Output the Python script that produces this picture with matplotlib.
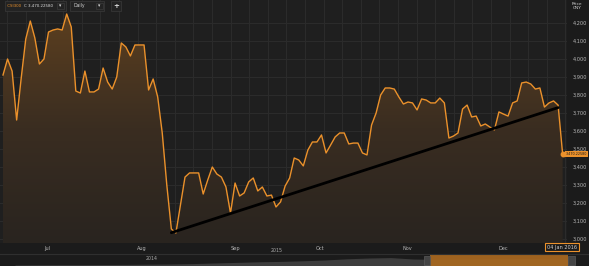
import numpy as np
import matplotlib
matplotlib.use('Agg')
import matplotlib.pyplot as plt
from matplotlib.patches import Rectangle
from matplotlib.colors import LinearSegmentedColormap

plt.rcParams['font.family'] = ['DejaVu Sans']

# CSI300 daily closes, late Jun 2015 .. 04 Jan 2016
closes = [3911, 4000, 3933, 3661, 3894, 4111, 4211, 4117, 3972, 4000,
          4150, 4161, 4167, 4161, 4250, 4178, 3822, 3811, 3933, 3817,
          3817, 3833, 3950, 3872, 3833, 3900, 4089, 4067, 4017, 4078,
          4078, 4078, 3828, 3889, 3789, 3589, 3300, 3056, 3033, 3189,
          3344, 3367, 3367, 3367, 3250, 3328, 3400, 3361, 3344, 3289,
          3144, 3311, 3239, 3256, 3317, 3339, 3267, 3289, 3239, 3244,
          3178, 3206, 3294, 3339, 3450, 3439, 3406, 3494, 3539, 3539,
          3578, 3478, 3522, 3567, 3589, 3589, 3528, 3533, 3533, 3478,
          3467, 3633, 3700, 3800, 3839, 3839, 3833, 3789, 3750, 3761,
          3756, 3717, 3778, 3772, 3756, 3756, 3783, 3756, 3561, 3572,
          3589, 3722, 3744, 3678, 3683, 3628, 3639, 3622, 3606, 3706,
          3694, 3683, 3756, 3767, 3867, 3872, 3861, 3833, 3839, 3733,
          3756, 3767, 3744, 3470.2258]

month_labels = ['Jul', 'Aug', 'Sep', 'Oct', 'Nov', 'Dec']
month_pos = [9.7, 30.5, 51.0, 69.7, 88.8, 109.9]

trend_idx = [37, 122]
trend_val = [3035, 3730]

price_ticks = [3000, 3100, 3200, 3300, 3400, 3500, 3600, 3700, 3800, 3900, 4000, 4100, 4200]

# long-range navigator silhouette (2014 .. 2016)
nav_vals = [1.0, 1.2, 1.3, 1.3, 1.5, 1.6, 1.8, 2.0, 2.4, 3.0, 3.6, 4.2, 4.6,
            5.2, 6.0, 7.2, 8.0, 8.4, 7.0, 6.6, 6.8, 7.0, 7.2, 7.4, 7.0, 6.5]

ORANGE = '#eb912b'
BG = '#1f1f1f'
GRID = '#2b2b2b'
PANEL = '#1b1b1b'

W, H = 589, 266
fig = plt.figure(figsize=(W / 100, H / 100), dpi=100)
fig.patch.set_facecolor(PANEL)

x = np.arange(len(closes))
y = np.array(closes, dtype=float)

px_per_day = 4.55
x0 = -3 / px_per_day
x1 = x0 + 567 / px_per_day
ymin = 3000 - 4 / 0.18
ymax = 3000 + 239 / 0.18

ax = fig.add_axes([0, 23 / H, 567 / W, 243 / H])
ax.set_facecolor(BG)
ax.set_xlim(x0, x1)
ax.set_ylim(ymin, ymax)

# grid
for gx in np.arange(7.4, 567, 18.6):
    ax.axvline(x0 + gx / px_per_day, color=GRID, lw=0.8, zorder=0)
for t in price_ticks:
    ax.axhline(t, color=GRID, lw=0.8, zorder=0)

# gradient area fill
poly = ax.fill_between(x, y, ymin, color='none', lw=0)
cmap = LinearSegmentedColormap.from_list('fill', ['#29241f', '#3a2d21', '#5c3f1f'])
grad = np.linspace(0, 1, 256).reshape(-1, 1)
im = ax.imshow(grad, extent=[x0, x1, ymin, y.max()], origin='lower',
               aspect='auto', cmap=cmap, zorder=1)
im.set_clip_path(poly.get_paths()[0], transform=ax.transData)

ax.plot(x, y, color=ORANGE, lw=1.0, zorder=3)
ax.plot(trend_idx, trend_val, color='black', lw=2.0, solid_capstyle='round', zorder=4)
ax.plot(x[-1], y[-1], 'o', color=ORANGE, ms=3.2, zorder=5)

ax.set_xticks(month_pos)
ax.set_xticklabels(month_labels)
ax.yaxis.tick_right()
ax.set_yticks(price_ticks)
ax.set_yticklabels(['{:,}'.format(t) for t in price_ticks])
ax.tick_params(axis='both', length=0, colors='#b8b8b8', labelsize=3.6)
ax.tick_params(axis='x', pad=2)
ax.tick_params(axis='y', pad=4)
for s in ax.spines.values():
    s.set_visible(False)

# last value tag
fig.text(587.5 / W, 1 - 154 / H, '3,470.22580', fontsize=2.4, color='#1b1b1b',
         va='center', ha='right',
         bbox=dict(boxstyle='square,pad=0.2', fc=ORANGE, ec='none'))
fig.text(577 / W, 1 - 6 / H, 'Price\nCNY', fontsize=3.2, color='#cfcfcf',
         va='center', ha='center', linespacing=1.1)

# date tag under x axis
fig.text(562 / W, 1 - 247 / H, '04 Jan 2016', fontsize=3.6, color='#d0d0d0',
         va='center', ha='center',
         bbox=dict(boxstyle='square,pad=0.35', fc='#1b1b1b', ec=ORANGE, lw=0.8))

# separator line
fig.add_artist(plt.Line2D([0, 1], [1 - 253.5 / H, 1 - 253.5 / H],
                          color='#2f2f2f', lw=0.8))

# navigator
nav = fig.add_axes([0, 0, 1, 12 / H])
nav.set_facecolor('#1d1d1d')
nav.set_xlim(0, W)
nav.set_ylim(0, 12)
nx = np.linspace(15, 568, len(nav_vals))
nav.fill_between(nx, nav_vals, 0, color='#3d3d3d', lw=0)
nav.add_patch(Rectangle((430, 0), 138, 11.5, fc='#ad6b20', ec='none', alpha=0.9))
nav.add_patch(Rectangle((424, 1), 6, 9, fc='#444444', ec='#5a5a5a', lw=0.5))
nav.add_patch(Rectangle((568, 1), 7, 9, fc='#444444', ec='#5a5a5a', lw=0.5))
nav.axis('off')
fig.text(152 / W, 1 - 259 / H, '2014', fontsize=3.4, color='#aaaaaa', ha='center', va='center')
fig.text(277 / W, 1 - 251 / H, '2015', fontsize=3.4, color='#aaaaaa', ha='center', va='center')

# top controls
def box(x, y, w, h):
    fig.add_artist(Rectangle((x / W, 1 - (y + h) / H), w / W, h / H,
                             transform=fig.transFigure, fc='#232323', ec='#3a3a3a', lw=0.5))

box(5, 1, 61, 10)
box(57, 3, 7, 6)
box(70, 1, 34, 10)
box(96, 3, 7, 6)
box(111, 1, 10, 10)
fig.text(7 / W, 1 - 6 / H, '.CSI300', fontsize=2.9, color=ORANGE, va='center')
fig.text(24.5 / W, 1 - 6 / H, 'C 3,470.22580', fontsize=2.9, color='#dddddd', va='center')
fig.text(60.5 / W, 1 - 6 / H, '\u25be', fontsize=3.3, color='#dddddd', va='center', ha='center')
fig.text(73 / W, 1 - 6 / H, 'Daily', fontsize=3.3, color='#cccccc', va='center')
fig.text(99.5 / W, 1 - 6 / H, '\u25be', fontsize=3.3, color='#dddddd', va='center', ha='center')
fig.text(116 / W, 1 - 6 / H, '+', fontsize=5, color='#dddddd', va='center', ha='center',
         fontweight='bold')

fig.savefig('out.png', dpi=100, facecolor=fig.get_facecolor())
